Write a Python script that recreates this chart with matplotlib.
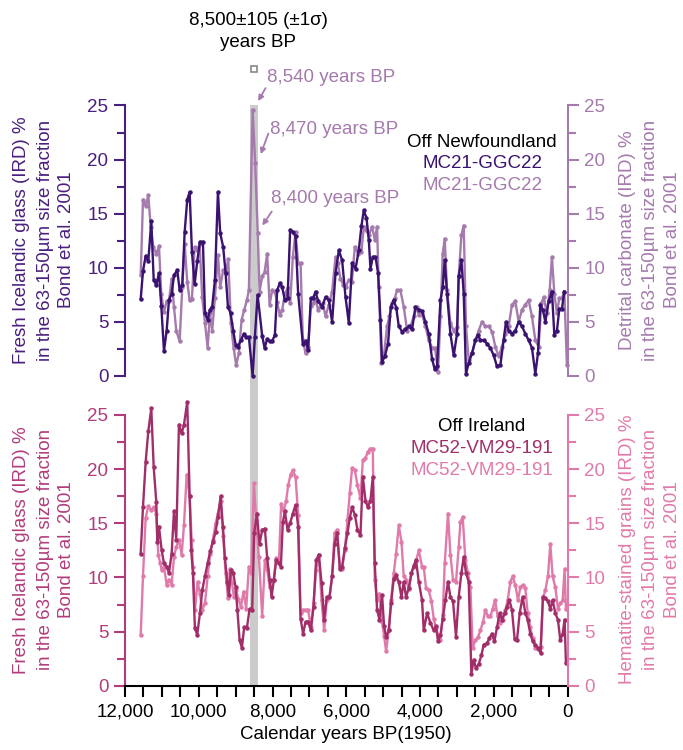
import matplotlib.pyplot as plt
from matplotlib.ticker import MultipleLocator

plt.rcParams['font.family'] = ['Liberation Sans', 'DejaVu Sans']
FS = 13.5

# ---- Off Newfoundland, MC21-GGC22 ----
nf_glass_yr = [
    11574, 11512, 11439, 11368, 11287, 11222, 11152, 11079, 11016, 10943,
    10870, 10808, 10735, 10672, 10583, 10518, 10447, 10382, 10312, 10247,
    10185, 10112, 10041, 9968, 9887, 9832, 9759, 9697, 9635, 9562,
    9480, 9418, 9337, 9272, 9209, 9137, 9066, 9001, 8939, 8857,
    8776, 8714, 8641, 8540, 8478, 8405, 8280, 8215, 8145, 8080,
    8009, 7936, 7874, 7801, 7738, 7665, 7592, 7522, 7449, 7376,
    7305, 7178, 7105, 7034, 6961, 6899, 6834, 6763, 6655, 6563,
    6473, 6384, 6292, 6202, 6113, 6021, 5932, 5842, 5750, 5661,
    5588, 5525, 5452, 5390, 5344, 5281, 5208, 5138, 5073, 5030,
    4956, 4867, 4794, 4713, 4645, 4577, 4487, 4395, 4306, 4216,
    4125, 4035, 3946, 3855, 3764, 3675, 3602, 3539, 3447, 3385,
    3331, 3268, 3177, 3087, 2997, 2952, 2879, 2816, 2754, 2681,
    2591, 2499, 2429, 2364, 2274, 2185, 2093, 2004, 1914, 1822,
    1733, 1670, 1597, 1508, 1416, 1326, 1237, 1145, 1055, 966,
    874, 803, 739, 668, 603, 514, 424, 359, 288, 224,
    153, 88]
nf_glass = [
    7.1, 9.7, 11.1, 10.6, 14.3, 8.9, 8.4, 9.5, 6.5, 2.3,
    4.2, 7.0, 7.6, 9.3, 9.8, 7.9, 8.4, 13.3, 16.3, 17.0,
    11.5, 8.5, 10.6, 12.4, 12.4, 5.8, 5.2, 6.1, 6.4, 8.9,
    17.0, 13.2, 11.9, 9.5, 6.4, 5.8, 4.2, 2.9, 2.7, 3.3,
    3.9, 3.6, 3.6, 0.0, 3.6, 7.5, 3.7, 2.6, 3.4, 3.2,
    3.2, 3.8, 7.9, 8.6, 8.2, 7.0, 7.2, 13.5, 13.3, 12.9,
    7.6, 3.0, 3.2, 2.4, 7.2, 7.2, 7.8, 6.9, 6.4, 7.3,
    7.0, 5.0, 9.5, 11.6, 10.7, 7.3, 4.9, 10.4, 9.9, 11.6,
    13.9, 15.3, 14.6, 12.6, 9.9, 11.0, 11.0, 9.5, 5.2, 1.3,
    1.8, 3.0, 6.4, 7.0, 6.3, 4.6, 4.1, 4.3, 4.6, 4.3,
    6.4, 6.1, 6.0, 5.0, 3.9, 1.6, 0.6, 0.9, 7.0, 8.2,
    10.7, 7.6, 3.9, 1.9, 3.9, 9.2, 10.7, 7.6, 0.2, 1.2,
    2.1, 3.3, 3.8, 3.3, 3.3, 3.0, 2.6, 1.9, 0.9, 1.0,
    3.3, 5.0, 4.2, 3.9, 4.2, 5.0, 4.6, 3.9, 3.3, 2.6,
    0.2, 2.1, 6.6, 6.1, 5.0, 6.9, 7.8, 3.8, 4.2, 6.2,
    6.2, 7.8]

nf_carb_yr = [
    11574, 11512, 11439, 11368, 11303, 11233, 11152, 11079, 11016, 10943,
    10870, 10808, 10735, 10672, 10610, 10518, 10447, 10382, 10312, 10247,
    10185, 10112, 10041, 9976, 9906, 9832, 9759, 9697, 9635, 9562,
    9480, 9418, 9337, 9272, 9201, 9128, 9055, 8985, 8912, 8838,
    8768, 8695, 8641, 8540, 8470, 8400, 8351, 8280, 8215, 8145,
    8080, 8009, 7936, 7874, 7801, 7738, 7665, 7592, 7522, 7449,
    7376, 7305, 7240, 7178, 7105, 7034, 6961, 6899, 6834, 6763,
    6698, 6636, 6563, 6473, 6384, 6292, 6230, 6157, 6080, 6021,
    5932, 5850, 5769, 5679, 5588, 5525, 5463, 5390, 5300, 5228,
    5165, 5119, 5046, 4983, 4894, 4829, 4758, 4685, 4623, 4531,
    4442, 4352, 4260, 4171, 4081, 4035, 3946, 3855, 3764, 3675,
    3594, 3512, 3447, 3385, 3331, 3268, 3177, 3087, 2997, 2952,
    2879, 2816, 2754, 2681, 2591, 2499, 2410, 2320, 2228, 2139,
    2049, 1958, 1868, 1779, 1687, 1597, 1508, 1416, 1326, 1237,
    1145, 1055, 966, 874, 785, 711, 649, 559, 486, 424,
    359, 288, 224, 153, 88, 18]
nf_carb = [
    9.3, 16.3, 15.7, 16.7, 13.8, 11.9, 11.3, 12.0, 7.6, 5.9,
    6.9, 6.9, 9.0, 6.4, 4.2, 3.2, 8.2, 12.2, 8.7, 7.0,
    7.1, 11.9, 11.6, 12.2, 7.3, 4.9, 2.6, 5.8, 4.2, 7.2,
    11.2, 8.2, 9.8, 9.5, 10.8, 4.9, 2.6, 1.0, 2.1, 5.2,
    6.1, 7.0, 7.9, 24.6, 19.7, 13.2, 7.8, 9.2, 9.6, 11.3,
    6.6, 7.9, 7.8, 6.8, 5.6, 6.1, 7.6, 8.1, 6.7, 11.0,
    13.3, 10.4, 10.4, 3.3, 2.1, 2.7, 6.5, 6.7, 7.1, 6.1,
    6.5, 6.7, 5.5, 6.6, 7.8, 11.0, 10.4, 9.0, 8.4, 8.2,
    8.9, 8.7, 11.9, 11.3, 11.5, 13.8, 13.5, 13.0, 13.8, 12.6,
    13.8, 8.2, 1.2, 1.8, 4.6, 5.5, 6.7, 7.2, 7.9, 7.9,
    6.4, 4.2, 4.6, 5.5, 6.4, 5.6, 5.7, 4.6, 3.3, 2.6,
    2.6, 0.4, 5.5, 11.3, 12.7, 7.9, 4.9, 4.2, 4.5, 9.2,
    13.0, 13.9, 4.6, 1.5, 2.1, 3.3, 4.2, 5.0, 4.6, 4.6,
    4.1, 2.7, 1.8, 2.7, 3.9, 4.6, 6.6, 6.9, 5.0, 6.1,
    6.6, 7.0, 5.5, 3.3, 2.7, 6.7, 7.3, 5.8, 7.9, 11.0,
    7.6, 5.8, 7.2, 7.2, 7.8, 1.0]

# ---- Off Ireland, MC52-VM29-191 ----
ir_glass_yr = [
    11574, 11512, 11439, 11368, 11287, 11222, 11152, 11125, 11079, 11006,
    10943, 10870, 10808, 10735, 10672, 10610, 10537, 10464, 10401, 10312,
    10247, 10204, 10158, 10104, 10041, 9968, 9906, 9832, 9759, 9689,
    9616, 9543, 9480, 9407, 9345, 9291, 9228, 9182, 9128, 9066,
    9001, 8952, 8893, 8830, 8768, 8695, 8622, 8551, 8497, 8424,
    8351, 8280, 8207, 8145, 8080, 8026, 7963, 7901, 7828, 7774,
    7720, 7665, 7592, 7522, 7449, 7376, 7305, 7240, 7170, 7105,
    7034, 6961, 6888, 6818, 6744, 6671, 6600, 6528, 6455, 6384,
    6319, 6248, 6175, 6113, 6040, 5967, 5905, 5842, 5769, 5696,
    5615, 5552, 5479, 5417, 5344, 5281, 5228, 5165, 5100, 5030,
    4975, 4921, 4848, 4786, 4713, 4650, 4577, 4504, 4442, 4380,
    4306, 4233, 4171, 4109, 4035, 3946, 3900, 3810, 3718, 3629,
    3566, 3512, 3447, 3385, 3312, 3242, 3177, 3106, 3025, 2952,
    2879, 2816, 2754, 2681, 2608, 2546, 2483, 2410, 2337, 2274,
    2185, 2120, 2049, 1984, 1914, 1841, 1779, 1706, 1643, 1578,
    1508, 1435, 1372, 1299, 1218, 1145, 1082, 1010, 947, 874,
    803, 731, 668, 603, 532, 468, 405, 332, 262, 197,
    134, 80, 45]
ir_glass = [
    12.2, 16.5, 20.7, 23.5, 25.6, 20.2, 17.0, 13.3, 14.7, 12.5,
    11.3, 11.0, 10.4, 12.2, 16.1, 13.5, 24.1, 23.3, 24.1, 26.2,
    17.5, 12.5, 10.4, 5.3, 4.7, 6.7, 8.8, 10.1, 11.3, 12.4,
    13.3, 14.2, 15.6, 17.5, 14.7, 11.8, 9.6, 8.4, 10.7, 10.4,
    9.1, 7.0, 4.2, 3.5, 5.4, 5.3, 7.1, 7.0, 14.1, 15.9,
    13.1, 14.4, 14.5, 11.8, 9.8, 8.2, 9.8, 11.6, 11.3, 11.0,
    15.1, 16.1, 14.4, 15.0, 15.9, 16.7, 14.7, 6.2, 4.8, 5.9,
    5.9, 5.1, 7.3, 11.6, 12.1, 9.5, 6.1, 8.2, 8.2, 10.1,
    13.1, 14.1, 10.8, 11.0, 12.7, 14.1, 15.5, 16.5, 15.8, 14.4,
    13.9, 19.3, 17.1, 16.5, 17.1, 19.3, 11.3, 7.0, 6.1, 8.4,
    5.5, 4.5, 5.1, 7.6, 9.9, 10.2, 9.6, 8.2, 9.6, 8.2,
    9.0, 10.4, 11.1, 11.6, 9.6, 7.9, 5.1, 6.7, 5.8, 5.1,
    5.5, 4.1, 4.7, 6.2, 7.9, 9.6, 8.2, 7.8, 4.5, 8.2,
    10.4, 11.9, 10.4, 9.6, 1.1, 2.4, 1.6, 2.0, 2.8, 3.8,
    3.9, 4.4, 4.8, 4.1, 5.4, 6.7, 6.1, 6.7, 7.3, 7.9,
    7.0, 4.3, 4.2, 6.7, 8.2, 6.7, 6.1, 4.8, 4.1, 3.8,
    3.5, 3.0, 8.2, 8.1, 7.8, 7.1, 7.9, 6.7, 6.1, 4.2,
    4.8, 6.1, 2.1]

ir_hem_yr = [
    11574, 11512, 11439, 11368, 11287, 11222, 11152, 11098, 11043, 11006,
    10943, 10870, 10808, 10735, 10672, 10610, 10537, 10464, 10401, 10328,
    10247, 10193, 10158, 10104, 10030, 9968, 9906, 9832, 9759, 9689,
    9616, 9543, 9480, 9407, 9337, 9272, 9209, 9155, 9101, 9047,
    8985, 8925, 8857, 8784, 8714, 8641, 8578, 8505, 8443, 8370,
    8280, 8207, 8145, 8080, 8009, 7963, 7901, 7828, 7766, 7693,
    7630, 7576, 7511, 7449, 7376, 7305, 7240, 7170, 7105, 7034,
    6961, 6888, 6818, 6744, 6671, 6600, 6528, 6455, 6384, 6319,
    6248, 6175, 6113, 6040, 5967, 5905, 5842, 5769, 5696, 5615,
    5552, 5479, 5417, 5344, 5281, 5228, 5165, 5100, 5030, 4975,
    4921, 4848, 4786, 4713, 4650, 4577, 4504, 4442, 4380, 4306,
    4233, 4171, 4109, 4035, 3946, 3900, 3837, 3764, 3692, 3629,
    3566, 3512, 3447, 3385, 3331, 3242, 3177, 3106, 3025, 2952,
    2906, 2844, 2771, 2700, 2635, 2573, 2499, 2429, 2364, 2293,
    2228, 2158, 2093, 2031, 1968, 1896, 1833, 1760, 1687, 1624,
    1552, 1489, 1416, 1345, 1280, 1218, 1145, 1082, 1010, 947,
    874, 803, 731, 668, 603, 532, 468, 405, 332, 262,
    197, 134, 80, 45]
ir_hem = [
    4.7, 10.1, 15.5, 16.6, 16.2, 16.5, 15.9, 12.1, 11.3, 10.7,
    11.0, 9.3, 9.8, 9.3, 11.9, 12.8, 13.5, 12.1, 14.8, 19.5,
    17.5, 13.5, 11.0, 7.0, 9.6, 8.5, 7.0, 7.6, 10.1, 12.2,
    13.5, 15.0, 15.9, 17.1, 13.8, 10.4, 8.1, 10.8, 9.5, 8.2,
    8.8, 8.0, 7.3, 8.7, 7.1, 11.0, 10.4, 18.7, 15.3, 11.9,
    6.4, 11.6, 10.8, 9.1, 9.8, 9.8, 11.8, 11.3, 16.8, 16.1,
    17.1, 18.5, 19.5, 19.9, 19.3, 15.8, 6.7, 7.0, 7.0, 7.0,
    5.4, 7.6, 10.7, 12.1, 7.9, 5.1, 7.9, 8.2, 10.1, 14.1,
    14.4, 11.0, 10.8, 12.5, 15.3, 17.8, 20.1, 19.9, 18.5, 17.3,
    20.8, 21.0, 21.6, 21.9, 21.9, 9.8, 7.9, 8.5, 5.9, 4.6,
    3.2, 5.1, 7.9, 10.4, 12.2, 14.8, 13.3, 10.1, 9.8, 8.9,
    10.4, 11.0, 11.5, 12.5, 11.0, 11.0, 9.0, 8.8, 7.8, 6.2,
    5.3, 4.7, 4.2, 6.5, 11.3, 15.9, 12.1, 9.8, 9.6, 12.8,
    15.1, 15.6, 11.6, 10.4, 9.1, 3.5, 4.2, 4.5, 5.1, 5.9,
    7.0, 6.4, 6.4, 7.1, 7.9, 6.4, 5.8, 6.1, 7.0, 7.9,
    9.6, 10.1, 9.3, 7.9, 9.1, 9.3, 9.0, 6.7, 5.4, 4.4,
    3.5, 3.4, 3.6, 8.1, 8.8, 10.1, 13.1, 10.1, 9.1, 7.1,
    7.6, 7.9, 10.8, 7.1]

event_yr = 8500
event_err = 105
xticks = [12000, 10000, 8000, 6000, 4000, 2000, 0]
xticklabels = ['12,000', '10,000', '8,000', '6,000', '4,000', '2,000', '0']

NF_DARK = '#3a1270'
NF_LIGHT = '#a57aad'
NF_AXIS = '#4a1f7e'
IR_DARK = '#a12e69'
IR_LIGHT = '#e07aaa'
IR_AXIS = '#b23c7b'
BAND = '#cbcbcb'


def style_y(ax, side, color):
    ax.set_ylim(0, 25)
    ax.yaxis.set_major_locator(MultipleLocator(5))
    ax.yaxis.set_minor_locator(MultipleLocator(2.5))
    for s in ['top', 'bottom', 'left', 'right']:
        ax.spines[s].set_visible(False)
    ax.spines[side].set_visible(True)
    ax.spines[side].set_color(color)
    ax.spines[side].set_linewidth(1.5)
    ax.tick_params(axis='y', which='both', colors=color, labelsize=FS,
                   width=1.5, direction='out')
    ax.tick_params(axis='y', which='major', length=8, pad=4)
    ax.tick_params(axis='y', which='minor', length=6)


fig = plt.figure(figsize=(6.83, 7.5), dpi=100)
ax1 = fig.add_axes([0.183, 0.4987, 0.648, 0.3607])
ax2 = fig.add_axes([0.183, 0.0857, 0.648, 0.361])
ax2.patch.set_visible(False)

for ax in (ax1, ax2):
    ax.set_xlim(12000, 0)

# top panel
style_y(ax1, 'left', NF_AXIS)
ax1.yaxis.set_ticks_position('left')
ax1.tick_params(axis='x', bottom=False, labelbottom=False)
ax1r = ax1.twinx()
style_y(ax1r, 'right', NF_LIGHT)
ax1r.tick_params(axis='x', bottom=False, labelbottom=False)

ax1.axvspan(event_yr - event_err, event_yr + event_err, ymin=-1.145, ymax=1.0,
            color=BAND, lw=0, zorder=0, clip_on=False)

ax1.plot(nf_carb_yr, nf_carb, color=NF_LIGHT, lw=1.7, marker='o', ms=2.2,
         zorder=3, clip_on=False)
ax1.plot(nf_glass_yr, nf_glass, color=NF_DARK, lw=1.7, marker='o', ms=2.2,
         zorder=4, clip_on=False)

# bottom panel
style_y(ax2, 'left', IR_AXIS)
ax2.yaxis.set_ticks_position('left')
ax2.spines['bottom'].set_visible(True)
ax2.spines['bottom'].set_color('black')
ax2.spines['bottom'].set_linewidth(1.5)
ax2.set_xticks(xticks)
ax2.set_xticklabels(xticklabels)
ax2.xaxis.set_minor_locator(MultipleLocator(500))
ax2.tick_params(axis='x', which='both', direction='out', length=8, width=1.5,
                labelsize=FS, pad=5)
ax2r = ax2.twinx()
style_y(ax2r, 'right', IR_LIGHT)
ax2r.patch.set_visible(False)

ax2.plot(ir_hem_yr, ir_hem, color=IR_LIGHT, lw=1.7, marker='o', ms=2.2,
         zorder=3, clip_on=False)
ax2.plot(ir_glass_yr, ir_glass, color=IR_DARK, lw=1.7, marker='o', ms=2.2,
         zorder=4, clip_on=False)
ax2.set_xlabel('Calendar years BP(1950)', fontsize=FS, labelpad=4)

# dating of the event
fig.text(0.378, 0.973, '8,500\u00b1105 (\u00b11\u03c3)', fontsize=FS,
         ha='center', va='center')
fig.text(0.378, 0.943, 'years BP', fontsize=FS, ha='center', va='center')
ax1.plot([event_yr], [28.4], marker='s', ms=4.5, mfc='white', mec='#888888',
         mew=1.2, clip_on=False)

arrow = dict(arrowstyle='-|>', color=NF_LIGHT, lw=1.3, mutation_scale=8,
             shrinkA=0, shrinkB=0)
for txt, tx, ty, tail, tip in [
        ('8,540 years BP', 8150, 27.6, (8190, 26.6), (8390, 25.4)),
        ('8,470 years BP', 8068, 22.8, (8114, 22.4), (8320, 20.5)),
        ('8,400 years BP', 8040, 16.4, (8021, 15.2), (8276, 13.9))]:
    ax1.annotate('', xy=tip, xytext=tail, arrowprops=arrow,
                 annotation_clip=False)
    ax1.text(tx, ty, txt, color=NF_LIGHT, fontsize=FS, ha='left', va='center',
             clip_on=False)

# site labels
ax1.text(2318, 21.6, 'Off Newfoundland', color='black', fontsize=FS, ha='center', va='center')
ax1.text(2318, 19.6, 'MC21-GGC22', color=NF_DARK, fontsize=FS, ha='center', va='center')
ax1.text(2318, 17.6, 'MC21-GGC22', color=NF_LIGHT, fontsize=FS, ha='center', va='center')
ax2.text(2318, 23.9, 'Off Ireland', color='black', fontsize=FS, ha='center', va='center')
ax2.text(2318, 21.9, 'MC52-VM29-191', color=IR_DARK, fontsize=FS, ha='center', va='center')
ax2.text(2318, 19.9, 'MC52-VM29-191', color=IR_LIGHT, fontsize=FS, ha='center', va='center')

# axis titles
sub = 'in the 63-150\u00b5m size fraction'
ref = 'Bond et al. 2001'
for lines, xs, yc, col in [
        (['Fresh Icelandic glass (IRD) %', sub, ref], [0.032, 0.066, 0.098], 0.68, NF_AXIS),
        (['Detrital carbonate (IRD) %', sub, ref], [0.919, 0.952, 0.984], 0.68, NF_LIGHT),
        (['Fresh Icelandic glass (IRD) %', sub, ref], [0.032, 0.066, 0.098], 0.267, IR_AXIS),
        (['Hematite-stained grains (IRD) %', sub, ref], [0.919, 0.952, 0.984], 0.267, IR_LIGHT)]:
    for t, x in zip(lines, xs):
        fig.text(x, yc, t, rotation=90, ha='center', va='center',
                 fontsize=FS, color=col)

fig.savefig('out.png', dpi=100)
